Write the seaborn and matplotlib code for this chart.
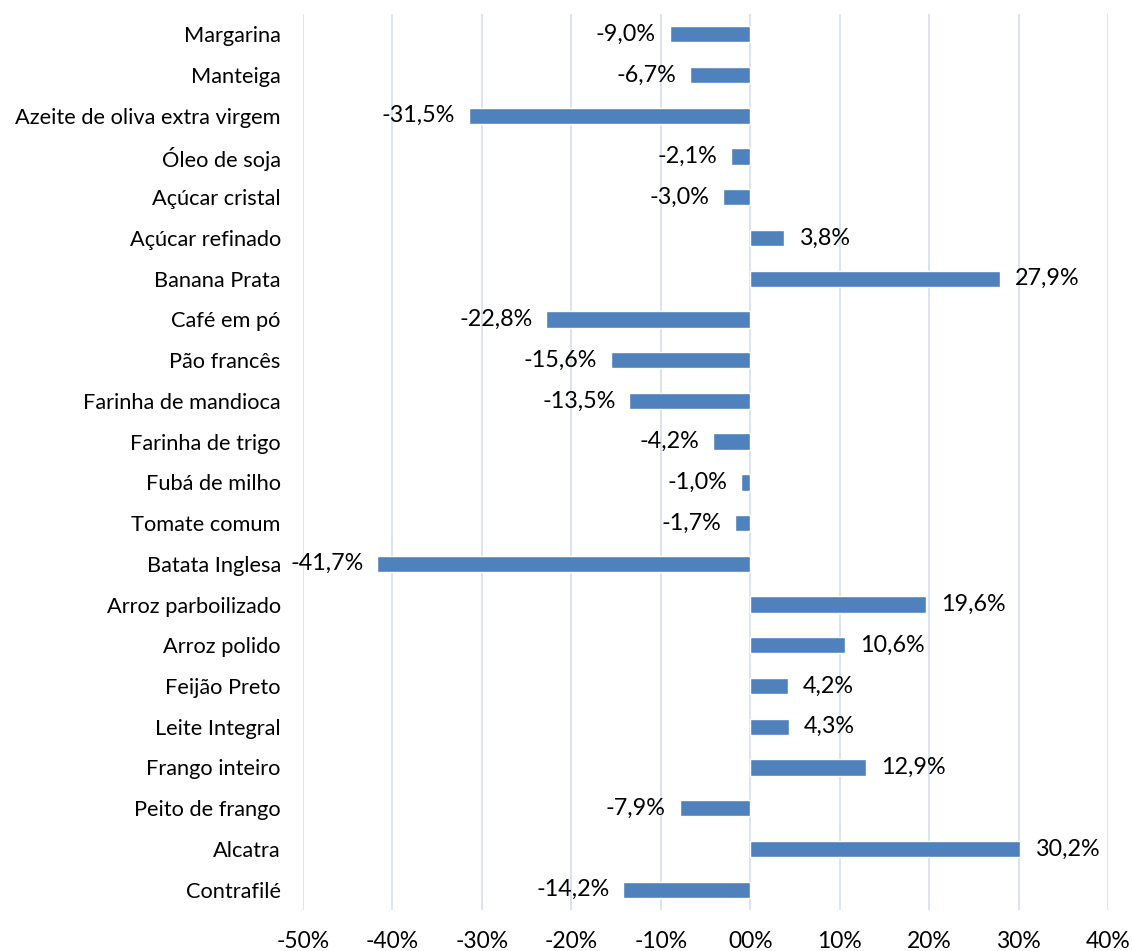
import matplotlib
matplotlib.use("Agg")
import matplotlib.pyplot as plt
import seaborn as sns
import pandas as pd
from matplotlib.ticker import FixedLocator, FixedFormatter

categories = ["Margarina", "Manteiga", "Azeite de oliva extra virgem", "Óleo de soja",
              "Açúcar cristal", "Açúcar refinado", "Banana Prata", "Café em pó",
              "Pão francês", "Farinha de mandioca", "Farinha de trigo", "Fubá de milho",
              "Tomate comum", "Batata Inglesa", "Arroz parboilizado", "Arroz polido",
              "Feijão Preto", "Leite Integral", "Frango inteiro", "Peito de frango",
              "Alcatra", "Contrafilé"]
values = [-9.0, -6.7, -31.5, -2.1, -3.0, 3.8, 27.9, -22.8, -15.6, -13.5, -4.2, -1.0,
          -1.7, -41.7, 19.6, 10.6, 4.2, 4.3, 12.9, -7.9, 30.2, -14.2]
x_ticks = [-50, -40, -30, -20, -10, 0, 10, 20, 30, 40]
x_tick_labels = ["-50%", "-40%", "-30%", "-20%", "-10%", "00%", "10%", "20%", "30%", "40%"]

sns.set_theme(style="white")
plt.rcParams['font.family'] = ['Lato', 'DejaVu Sans']

df = pd.DataFrame({"cat": categories, "val": values})

fig = plt.figure(figsize=(11.32, 9.51), dpi=100)
ax = fig.add_axes([0.2677, 0.0431, 0.7111, 0.9422])
sns.barplot(data=df, x="val", y="cat", orient="h", color="#4F81BD", saturation=1,
            width=0.4, ax=ax, zorder=3)
ax.set_xlim(-50, 40)
ax.set_ylim(len(categories) - 0.5, -0.5)
ax.xaxis.set_major_locator(FixedLocator(x_ticks))
ax.xaxis.set_major_formatter(FixedFormatter(x_tick_labels))
ax.grid(axis="x", color="#D6E1F0", linewidth=1.3, zorder=0)
ax.grid(axis="y", visible=False)
for s in ax.spines.values():
    s.set_visible(False)
ax.set_xlabel("")
ax.set_ylabel("")
ax.tick_params(axis="x", length=0, pad=15, labelsize=16.5, labelcolor="black")
ax.tick_params(axis="y", length=0, pad=16, labelsize=15.7, labelcolor="black")

for i, v in enumerate(values):
    lbl = f"{v:.1f}%".replace(".", ",")
    if v < 0:
        ax.annotate(lbl, (v, i), xytext=(-10, 0), textcoords="offset points",
                    ha="right", va="center", fontsize=16.8, color="black")
    else:
        ax.annotate(lbl, (v, i), xytext=(11, 0), textcoords="offset points",
                    ha="left", va="center", fontsize=16.8, color="black")

fig.savefig("out.png", dpi=100)
